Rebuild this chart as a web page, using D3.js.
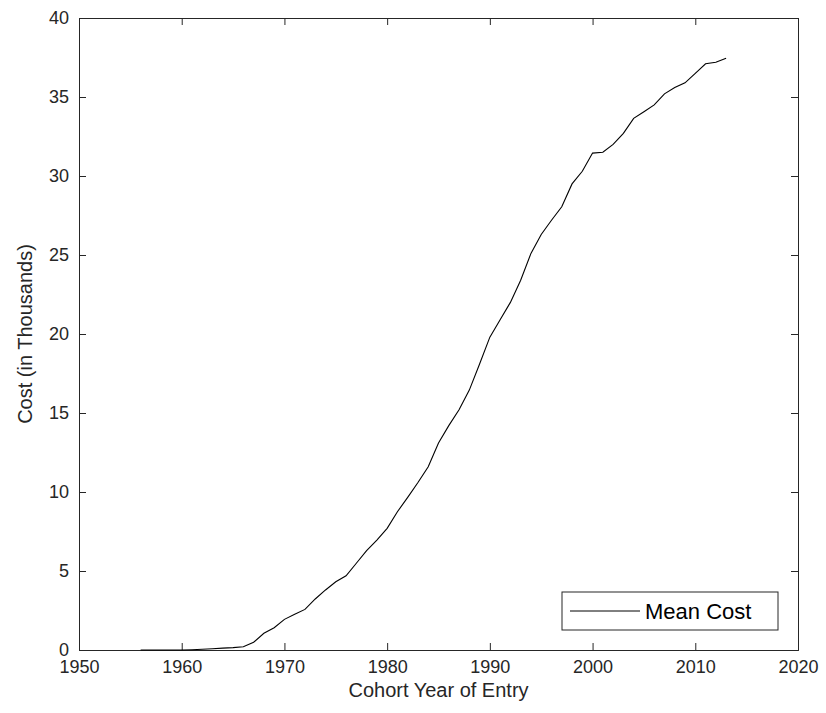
<!DOCTYPE html>
<html><head><meta charset="utf-8">
<script src="https://cdn.jsdelivr.net/npm/d3@7"></script>
<style>body{margin:0;background:#fff}text{font-family:"Liberation Sans",Arial,sans-serif}</style>
</head><body><svg width="826" height="713"></svg>
<script>
var years = d3.range(1956, 2014);
var meanCost = [0,0,0,0,0,0.02,0.05,0.08,0.12,0.15,0.21,0.49,1.06,1.41,1.94,2.26,2.57,3.23,3.8,4.32,4.7,5.49,6.29,6.96,7.7,8.75,9.66,10.6,11.6,13.1,14.2,15.2,16.45,18.1,19.8,20.9,22.0,23.4,25.1,26.3,27.2,28.05,29.5,30.3,31.45,31.5,32.0,32.7,33.65,34.07,34.5,35.2,35.6,35.9,36.5,37.1,37.2,37.45];
var xTicks = [1950,1960,1970,1980,1990,2000,2010,2020];
var yTicks = [0,5,10,15,20,25,30,35,40];

var L = 79, R = 798, T = 18, B = 650;
var svg = d3.select("svg");
var x = d3.scaleLinear().domain([1950, 2020]).range([L, R]);
var y = d3.scaleLinear().domain([0, 40]).range([B, T]);

function axis(a, tr) {
    var g = svg.append("g").attr("transform", tr).call(a);
    g.select(".domain").attr("stroke", "#262626");
    g.selectAll(".tick line").attr("stroke", "#262626");
    g.selectAll("text").attr("fill", "#262626").style("font-size", "18px");
    return g;
}
axis(d3.axisBottom(x).tickValues(xTicks).tickSize(-7).tickPadding(10).tickFormat(d3.format("d")), "translate(0," + B + ")");
axis(d3.axisTop(x).tickValues(xTicks).tickSize(-7).tickFormat(""), "translate(0," + T + ")");
axis(d3.axisLeft(y).tickValues(yTicks).tickSize(-7).tickPadding(10), "translate(" + L + ",0)");
axis(d3.axisRight(y).tickValues(yTicks).tickSize(-7).tickFormat(""), "translate(" + R + ",0)");

svg.append("path")
    .datum(years.map(function (d, i) { return [d, meanCost[i]]; }))
    .attr("fill", "none").attr("stroke", "#000").attr("stroke-width", 1.1)
    .attr("d", d3.line().x(function (d) { return x(d[0]); }).y(function (d) { return y(d[1]); }));

svg.append("text").attr("x", (L + R) / 2).attr("y", 697).attr("text-anchor", "middle")
    .style("font-size", "20px").attr("fill", "#262626").text("Cohort Year of Entry");
svg.append("text").attr("transform", "translate(32," + (T + B) / 2 + ") rotate(-90)").attr("text-anchor", "middle")
    .style("font-size", "20px").attr("fill", "#262626").text("Cost (in Thousands)");

var lg = svg.append("g");
lg.append("rect").attr("x", 562).attr("y", 592).attr("width", 216).attr("height", 38)
    .attr("fill", "#fff").attr("stroke", "#262626");
lg.append("line").attr("x1", 570).attr("x2", 640).attr("y1", 611).attr("y2", 611).attr("stroke", "#000");
lg.append("text").attr("x", 645).attr("y", 619).style("font-size", "22px").attr("fill", "#000").text("Mean Cost");
</script></body></html>
